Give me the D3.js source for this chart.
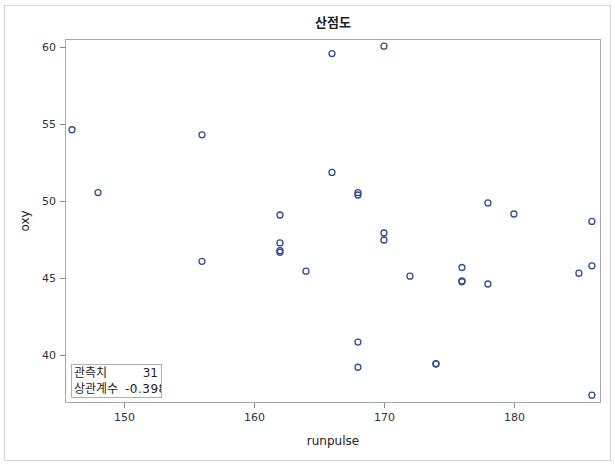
<!DOCTYPE html>
<html>
<head>
<meta charset="utf-8">
<script src="https://cdn.jsdelivr.net/npm/d3@7"></script>
<style>
  body { margin: 0; background: #fff; }
  text { font-family: "Noto Sans CJK KR", "DejaVu Sans", sans-serif; }
</style>
</head>
<body>
<script>
// fitness data: runpulse vs oxy
const runpulse = [178, 185, 156, 166, 178, 176, 176, 162, 174, 170, 168, 186, 176, 162, 166, 180,
  168, 162, 162, 168, 174, 156, 164, 146, 172, 168, 186, 148, 186, 170, 170];
const oxy = [44.609, 45.313, 54.297, 59.571, 49.874, 44.811, 45.681, 49.091, 39.442, 60.055, 50.541,
  37.388, 44.754, 47.273, 51.855, 49.156, 40.836, 46.672, 46.774, 50.388, 39.407, 46.080, 45.441,
  54.625, 45.118, 39.203, 45.790, 50.545, 48.673, 47.920, 47.467];
const xTicks = [150, 160, 170, 180];
const yTicks = [40, 45, 50, 55, 60];
const statLabels = ["관측치", "상관계수"];
const statValues = ["31", "-0.398"];

const totalWidth = 615;
const totalHeight = 465;
const margin = { top: 39, right: 14, bottom: 62, left: 65 };
const width = totalWidth - margin.left - margin.right;
const height = totalHeight - margin.top - margin.bottom;

const data = runpulse.map((x, i) => ({ x, y: oxy[i] }));

const root = d3.select("body")
  .append("svg")
  .attr("width", totalWidth)
  .attr("height", totalHeight);

// outer frame
root.append("rect")
  .attr("x", 4.5).attr("y", 5.5)
  .attr("width", 606).attr("height", 455)
  .attr("fill", "#fff")
  .attr("stroke", "#d4d4d8");

root.append("text")
  .attr("x", 333)
  .attr("y", 27)
  .attr("text-anchor", "middle")
  .style("font-size", "13px")
  .style("font-weight", "bold")
  .attr("fill", "#222")
  .text("산점도");

const svg = root.append("g")
  .attr("transform", `translate(${margin.left}, ${margin.top})`);

const xScale = d3.scaleLinear().domain([145.46, 186.7]).range([0, width]);
const yScale = d3.scaleLinear().domain([36.88, 60.52]).range([height, 0]);

const xAxis = svg.append("g")
  .attr("transform", `translate(0, ${height})`)
  .call(d3.axisBottom(xScale).tickValues(xTicks).tickSize(5).tickPadding(5));
const yAxis = svg.append("g")
  .call(d3.axisLeft(yScale).tickValues(yTicks).tickSize(5).tickPadding(4));

[xAxis, yAxis].forEach(ax => {
  ax.select(".domain").remove();
  ax.selectAll("line").attr("stroke", "#888");
  ax.selectAll("text")
    .attr("fill", "#333")
    .style("font-size", "11px")
    .style("font-family", "'DejaVu Sans', sans-serif");
});

svg.append("rect")
  .attr("x", 0.5).attr("y", 0.5)
  .attr("width", width - 1).attr("height", height - 1)
  .attr("fill", "none")
  .attr("stroke", "#a8a8a8");

svg.selectAll("circle")
  .data(data)
  .enter()
  .append("circle")
  .attr("cx", d => xScale(d.x))
  .attr("cy", d => yScale(d.y))
  .attr("r", 3)
  .attr("fill", "none")
  .attr("stroke", "#2f4f8f")
  .attr("stroke-width", 1.3);

// stats inset
const inset = svg.append("g").attr("transform", "translate(6, 325)");
inset.append("clipPath").attr("id", "clip")
  .append("rect").attr("width", 90).attr("height", 33);
inset.append("rect")
  .attr("x", 0.5).attr("y", 0.5)
  .attr("width", 90).attr("height", 33)
  .attr("fill", "#fff")
  .attr("stroke", "#b0b0b0");
const ig = inset.append("g").attr("clip-path", "url(#clip)");
statLabels.forEach((lab, i) => {
  ig.append("text")
    .attr("x", 3).attr("y", 13 + i * 16)
    .style("font-size", "12px").attr("fill", "#222")
    .text(lab);
});
ig.append("text")
  .attr("x", 87).attr("y", 13)
  .attr("text-anchor", "end")
  .style("font-size", "12px").attr("fill", "#222")
  .style("font-family", "'DejaVu Sans', sans-serif")
  .text(statValues[0]);
ig.append("text")
  .attr("x", 54).attr("y", 29)
  .style("font-size", "12px").attr("fill", "#222")
  .style("letter-spacing", "0.5px")
  .style("font-family", "'DejaVu Sans', sans-serif")
  .text(statValues[1]);

root.append("text")
  .attr("x", 333)
  .attr("y", 445)
  .attr("text-anchor", "middle")
  .style("font-size", "12px")
  .attr("fill", "#222")
  .style("font-family", "'DejaVu Sans', sans-serif")
  .text("runpulse");

root.append("text")
  .attr("transform", "translate(29, 221) rotate(-90)")
  .attr("text-anchor", "middle")
  .style("font-size", "12px")
  .attr("fill", "#222")
  .style("font-family", "'DejaVu Sans', sans-serif")
  .text("oxy");
</script>
</body>
</html>
